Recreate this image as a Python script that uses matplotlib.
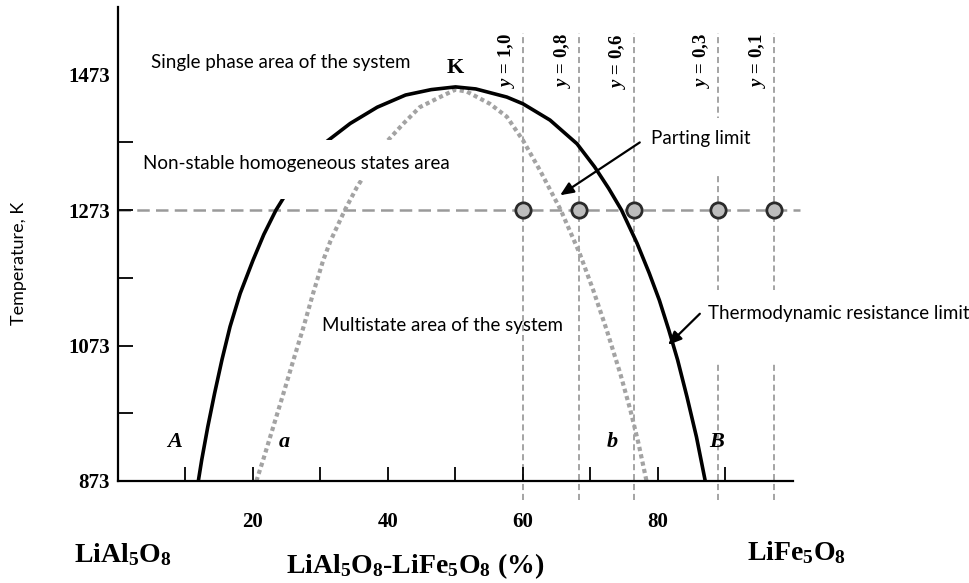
import matplotlib
matplotlib.use("Agg")
import matplotlib.pyplot as plt
from matplotlib.patches import Rectangle

plt.rcParams['mathtext.fontset'] = 'custom'
plt.rcParams['mathtext.rm'] = 'Liberation Serif:bold'
plt.rcParams['mathtext.it'] = 'Liberation Serif:italic:bold'
plt.rcParams['mathtext.bf'] = 'Liberation Serif:bold'

# thermodynamic resistance limit (solid curve)
solid_x = [11.9, 12.4, 13.3, 14.3, 15.4, 16.6, 18.1, 20.0, 21.6, 23.4, 25.7,
           28.0, 31.0, 34.4, 38.4, 42.6, 46.4, 50.0, 53.0, 57.6, 60.0, 64.0,
           68.0, 70.6, 72.7, 74.6, 76.9, 78.7, 80.2, 81.6, 82.9, 84.3, 85.7, 87.0]
solid_t = [873, 904, 953, 1002, 1052, 1101, 1150, 1199, 1237, 1273, 1310,
           1343, 1375, 1401, 1425, 1443, 1451, 1455, 1452, 1440, 1430, 1406,
           1371, 1337, 1305, 1273, 1224, 1180, 1140, 1096, 1052, 997, 938, 873]

# parting limit (dotted curve)
dotted_x = [20.5, 21.5, 23.0, 24.5, 26.0, 27.5, 28.9, 30.4, 31.5, 33.6, 35.4,
            37.5, 39.8, 42.3, 44.7, 47.7, 50.0, 51.7, 55.1, 57.6, 60.0, 62.5,
            65.6, 68.4, 70.4, 72.4, 74.4, 75.9, 77.1, 78.3]
dotted_t = [873, 904, 953, 1002, 1052, 1101, 1150, 1199, 1228, 1273, 1307,
            1340, 1374, 1401, 1425, 1440, 1451, 1448, 1430, 1411, 1376, 1332,
            1273, 1209, 1155, 1096, 1032, 978, 929, 873]

# compositions at 1273 K
y_values = ['1,0', '0,8', '0,6', '0,3', '0,1']
y_comp = [60.0, 68.3, 76.4, 88.9, 97.2]
t_iso = 1273

x_ticks = [10, 20, 30, 40, 50, 60, 70, 80, 90]
x_ticklabels = ['', '20', '', '40', '', '60', '', '80', '']
t_major = [873, 1073, 1273, 1473]
t_minor = [973, 1173, 1373]

serif = 'Liberation Serif'
sans = 'Lato'

fig = plt.figure(figsize=(9.7, 5.83), dpi=100)
ax = fig.add_axes([118 / 970, 102 / 583, 675 / 970, 474 / 583])
ax.set_xlim(0, 100)
ax.set_ylim(873, 1573)

for s in ['top', 'right']:
    ax.spines[s].set_visible(False)
for s in ['left', 'bottom']:
    ax.spines[s].set_linewidth(1.6)
    ax.spines[s].set_zorder(6)

ax.set_xticks(x_ticks)
ax.set_xticklabels(x_ticklabels, fontfamily=serif, fontweight='bold', fontsize=15)
ax.tick_params(axis='x', direction='in', length=10, width=1.3, pad=22)
ax.set_yticks(t_major)
ax.set_yticklabels([str(t) for t in t_major], fontfamily=serif, fontweight='bold', fontsize=15)
ax.set_yticks(t_minor, minor=True)
ax.tick_params(axis='y', which='both', direction='in', length=11, width=1.3, pad=6)
ax.yaxis.get_major_ticks()[-1].tick1line.set_markersize(1)

# dashed guide lines
ax.vlines(y_comp, 845, 1534, colors='#8c8c8c', linestyles=(0, (4, 2.5)),
          linewidth=1.1, clip_on=False, zorder=1)
ax.hlines(t_iso, 0, 101, colors='#9a9a9a', linestyles=(0, (5, 2.5)),
          linewidth=1.8, clip_on=False, zorder=1)

ax.plot(dotted_x, dotted_t, color='#a3a3a3', linewidth=3.0,
        linestyle=(0, (1, 0.8)), zorder=2)
ax.plot(solid_x, solid_t, color='black', linewidth=2.6, zorder=2,
        solid_capstyle='butt', solid_joinstyle='round')

# white boxes behind labels (as in the source figure)
ax.add_patch(Rectangle((3, 1318), 47, 59, facecolor='white', edgecolor='none', zorder=3))
ax.add_patch(Rectangle((22, 1290), 8, 30, facecolor='white', edgecolor='none', zorder=3))
ax.add_patch(Rectangle((78, 1325), 16, 84, facecolor='white', edgecolor='none', zorder=3))
ax.add_patch(Rectangle((86.9, 1049), 39, 106, facecolor='white', edgecolor='none',
                       zorder=3, clip_on=False))

ax.plot(y_comp, [t_iso] * len(y_comp), 'o', markersize=11, markerfacecolor='#bdbdbd',
        markeredgecolor='#2a2a2a', markeredgewidth=2, zorder=5, clip_on=False)

for xv, lab in zip(y_comp, y_values):
    ax.text(xv - 0.9, 1534, r'$y$ = ' + lab, rotation=90, ha='right', va='top',
            fontfamily=serif, fontweight='bold', fontsize=13.5, zorder=4)

txt = dict(fontfamily=sans, fontsize=13.5, va='center', ha='left', zorder=4)
ax.text(4.9, 1491, 'Single phase area of the system', **txt)
ax.text(3.7, 1342, 'Non-stable homogeneous states area', **txt)
ax.text(30.2, 1103, 'Multistate area of the system', **txt)
ax.text(79.0, 1379, 'Parting limit', **txt)
ax.text(87.4, 1121, 'Thermodynamic resistance limit', clip_on=False, **txt)

ax.text(49.9, 1483, 'K', fontfamily=serif, fontweight='bold', fontsize=16,
        ha='center', va='center', zorder=4)
letters = dict(fontfamily=serif, fontweight='bold', fontstyle='italic', fontsize=16,
               ha='center', va='center', zorder=4)
ax.text(8.4, 930, 'A', **letters)
ax.text(24.6, 930, 'a', **letters)
ax.text(73.2, 930, 'b', **letters)
ax.text(88.7, 930, 'B', **letters)

arrow = dict(arrowstyle='-|>,head_length=0.8,head_width=0.35', color='black',
             linewidth=1.6, shrinkA=0, shrinkB=0)
ax.annotate('', xy=(65.5, 1295), xytext=(77.3, 1373), arrowprops=arrow, zorder=5)
ax.annotate('', xy=(81.5, 1074), xytext=(86.2, 1120), arrowprops=arrow, zorder=5)

fig.text(19 / 970, 1 - 263 / 583, 'Temperature, K', rotation=90, ha='center',
         va='center', fontfamily=sans, fontsize=13)

bottom = dict(fontfamily=serif, fontweight='bold', fontsize=20, va='baseline')
fig.text(74 / 970, 1 - 562 / 583, r'LiAl$_5$O$_8$', ha='left', **bottom)
fig.text(415 / 970, 1 - 573 / 583, r'LiAl$_5$O$_8$-LiFe$_5$O$_8$ (%)', ha='center', **bottom)
fig.text(747 / 970, 1 - 560 / 583, r'LiFe$_5$O$_8$', ha='left', **bottom)

fig.savefig('out.png', dpi=100)
